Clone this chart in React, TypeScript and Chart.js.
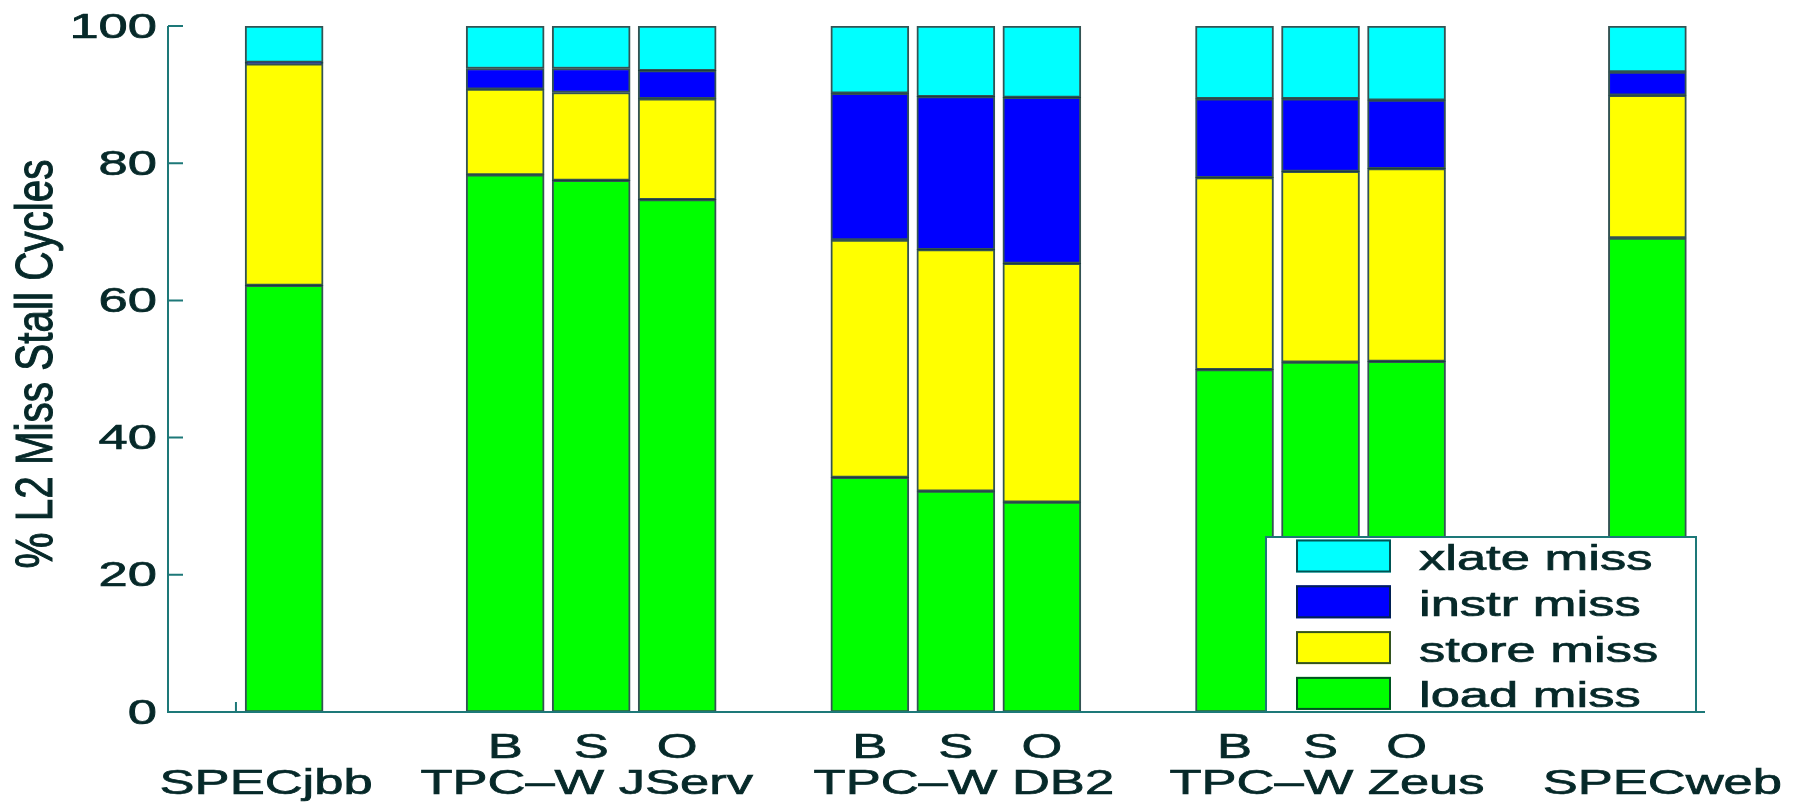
import React, { useEffect, useRef } from "react";
import { Chart, registerables } from "chart.js";

Chart.register(...registerables);

// Benchmark configurations, left to right
const configLetters = ["", "B", "S", "O", "B", "S", "O", "B", "S", "O", ""];
const groupNames = ["SPECjbb", "TPC\u2013W JServ", "TPC\u2013W DB2", "TPC\u2013W Zeus", "SPECweb"];
const groupMembers = [[0], [1, 2, 3], [4, 5, 6], [7, 8, 9], [10]];

// x position of each bar on the (linear) x axis
const barSlots = [1.35, 3.92, 4.92, 5.92, 8.16, 9.16, 10.16, 12.4, 13.4, 14.4, 17.2];
const xRange = [0, 17.87];
const xTickValues = [0.79];

// % of L2 miss stall cycles, by miss type
const loadMiss = [62.2, 78.3, 77.5, 74.7, 34.2, 32.2, 30.6, 49.9, 51.0, 51.1, 69.1];
const storeMiss = [32.3, 12.5, 12.8, 14.7, 34.6, 35.2, 34.8, 28.0, 27.8, 28.1, 20.8];
const instrMiss = [0.2, 3.0, 3.5, 4.1, 21.4, 22.3, 24.2, 11.5, 10.6, 10.0, 3.4];
const xlateMiss = [5.3, 6.2, 6.2, 6.5, 9.8, 10.3, 10.4, 10.6, 10.6, 10.8, 6.7];

const yTicks = [0, 20, 40, 60, 80, 100];

const TEXT = "#062929";
const AXIS = "#1d7878";
const EDGE = "rgba(0, 40, 40, 0.8)";
const FONT = "35px 'Liberation Sans', Arial, Helvetica, sans-serif";
const STRETCH = 1.5;

function fillHeavy(ctx: CanvasRenderingContext2D, text: string) {
  ctx.fillText(text, 0, 0);
  ctx.lineWidth = 0.7;
  ctx.strokeStyle = TEXT;
  ctx.strokeText(text, 0, 0);
}

function stretchText(
  ctx: CanvasRenderingContext2D,
  text: string,
  x: number,
  y: number,
  align: CanvasTextAlign,
  baseline: CanvasTextBaseline = "alphabetic"
) {
  ctx.save();
  ctx.translate(x, y);
  ctx.scale(STRETCH, 1);
  ctx.textAlign = align;
  ctx.textBaseline = baseline;
  fillHeavy(ctx, text);
  ctx.restore();
}

// horizontal offsets (px) of the group captions from their middle bar
const groupCaptionShift = [-18, -4.5, 8, 6.5, 15];

const axesPlugin = {
  id: "matlabAxes",
  afterDraw(chart: any) {
    const { ctx, chartArea: ca } = chart;
    const x = chart.scales.x;
    const y = chart.scales.y;
    ctx.save();

    // axis lines
    ctx.strokeStyle = AXIS;
    ctx.lineWidth = 2;
    ctx.beginPath();
    ctx.moveTo(ca.left, y.getPixelForValue(100));
    ctx.lineTo(ca.left, ca.bottom);
    ctx.lineTo(ca.right, ca.bottom);
    ctx.stroke();

    // inward tick marks
    ctx.beginPath();
    yTicks.forEach((v) => {
      const py = y.getPixelForValue(v);
      ctx.moveTo(ca.left, py);
      ctx.lineTo(ca.left + 15, py);
    });
    xTickValues.forEach((v) => {
      const px = x.getPixelForValue(v);
      ctx.moveTo(px, ca.bottom);
      ctx.lineTo(px, ca.bottom - 10);
    });
    ctx.stroke();

    ctx.fillStyle = TEXT;
    ctx.font = FONT;

    // y tick labels
    yTicks.forEach((v) => {
      stretchText(ctx, String(v), ca.left - 11, y.getPixelForValue(v) + 2, "right", "middle");
    });

    // configuration letters
    configLetters.forEach((t, i) => {
      if (!t) return;
      stretchText(ctx, t, x.getPixelForValue(barSlots[i]), ca.bottom + 46, "center");
    });

    // group captions
    groupNames.forEach((name, g) => {
      const members = groupMembers[g];
      const mid = members[Math.floor(members.length / 2)];
      const px = x.getPixelForValue(barSlots[mid]) + groupCaptionShift[g];
      stretchText(ctx, name, px, ca.bottom + 82, "center");
    });

    // y axis title
    ctx.save();
    ctx.translate(52, 364);
    ctx.rotate(-Math.PI / 2);
    ctx.scale(1.155, 1.5);
    ctx.textAlign = "center";
    ctx.textBaseline = "alphabetic";
    fillHeavy(ctx, "% L2 Miss Stall Cycles");
    ctx.restore();

    // legend
    const box = { left: 1266, top: 537, right: 1696, bottom: ca.bottom };
    ctx.fillStyle = "#ffffff";
    ctx.fillRect(box.left, box.top, box.right - box.left, box.bottom - box.top);
    ctx.strokeStyle = AXIS;
    ctx.lineWidth = 2;
    ctx.strokeRect(box.left, box.top, box.right - box.left, box.bottom - box.top);

    const sets = [...chart.data.datasets].reverse();
    sets.forEach((ds: any, i: number) => {
      const cy = box.top + 19 + i * 45.8;
      ctx.fillStyle = ds.backgroundColor;
      ctx.fillRect(1296, cy - 16.5, 95, 33);
      ctx.strokeStyle = EDGE;
      ctx.lineWidth = 2;
      ctx.strokeRect(1297, cy - 15.5, 93, 31);
      ctx.fillStyle = TEXT;
      ctx.font = FONT;
      stretchText(ctx, ds.label, 1419, cy + 14, "left");
    });

    ctx.restore();
  },
};

function series(values: number[]) {
  return values.map((v, i) => ({ x: barSlots[i], y: v }));
}

export default function App() {
  const canvasRef = useRef<HTMLCanvasElement | null>(null);

  useEffect(() => {
    const canvas = canvasRef.current;
    if (!canvas) return;
    const common = {
      borderColor: EDGE,
      borderWidth: 2,
      borderSkipped: false,
      barThickness: 78,
    };
    const chart = new Chart(canvas, {
      type: "bar",
      data: {
        datasets: [
          { label: "load miss", data: series(loadMiss), backgroundColor: "#00ff00", ...common },
          { label: "store miss", data: series(storeMiss), backgroundColor: "#ffff00", ...common },
          { label: "instr miss", data: series(instrMiss), backgroundColor: "#0000ff", ...common },
          { label: "xlate miss", data: series(xlateMiss), backgroundColor: "#00ffff", ...common },
        ] as any,
      },
      options: {
        animation: false,
        responsive: false,
        devicePixelRatio: 1,
        layout: { padding: { left: 168, right: 91, top: 26, bottom: 92 } },
        scales: {
          x: {
            type: "linear",
            min: xRange[0],
            max: xRange[1],
            stacked: true,
            offset: false,
            display: false,
          },
          y: { min: 0, max: 100, stacked: true, display: false },
        },
        plugins: { legend: { display: false }, tooltip: { enabled: false } },
      } as any,
      plugins: [axesPlugin],
    });
    return () => chart.destroy();
  }, []);

  return (
    <div style={{ position: "fixed", left: 0, top: 0, width: 1796, height: 804, background: "#ffffff" }}>
      <canvas ref={canvasRef} width={1796} height={804} style={{ display: "block" }} />
    </div>
  );
}
